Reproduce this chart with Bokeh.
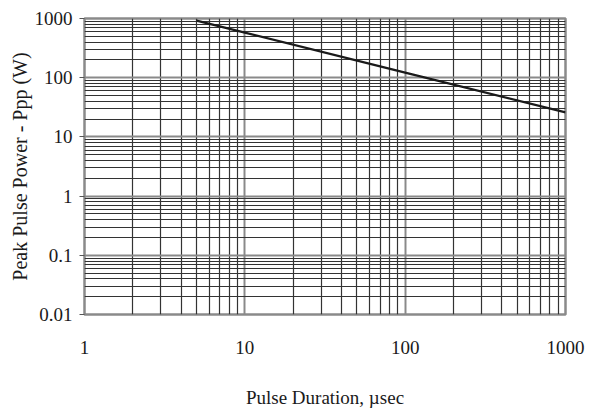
from bokeh.plotting import figure
from bokeh.models import FixedTicker
from bokeh.embed import file_html
from bokeh.resources import INLINE

# Data
pulse_duration_us = [5, 10, 100, 1000]
peak_power_w = [920, 577, 122, 26]

x_major = [1, 10, 100, 1000]
y_major = [0.01, 0.1, 1, 10, 100, 1000]
x_labels = ["1", "10", "100", "1000"]
y_labels = ["0.01", "0.1", "1", "10", "100", "1000"]

def minors(lo_exp, hi_exp):
    out = []
    for e in range(lo_exp, hi_exp):
        for m in range(2, 10):
            out.append(m * 10.0 ** e)
    return out

W, H = 590, 410
p = figure(width=W, height=H, x_axis_type="log", y_axis_type="log",
           x_range=(1, 1000), y_range=(0.01, 1000),
           output_backend="svg", toolbar_location=None,
           min_border_left=84, min_border_right=W - 565, min_border_top=18,
           min_border_bottom=H - 317)

p.line(pulse_duration_us, peak_power_w, line_color="#1a1a1a", line_width=2.2)

FONT = "Liberation Serif"

p.xaxis.ticker = FixedTicker(ticks=x_major, minor_ticks=minors(0, 3))
p.yaxis.ticker = FixedTicker(ticks=y_major, minor_ticks=minors(-2, 3))
p.xaxis.major_label_overrides = {v: s for v, s in zip(x_major, x_labels)}
p.yaxis.major_label_overrides = {v: s for v, s in zip(y_major, y_labels)}

for ax in (p.xaxis[0], p.yaxis[0]):
    ax.axis_line_color = None
    ax.minor_tick_line_color = None
    ax.major_label_text_font = FONT
    ax.axis_label_text_font = FONT
    ax.axis_label_text_font_style = "normal"
    ax.axis_label_text_color = "#1a1a1a"
    ax.major_label_text_color = "#1a1a1a"

p.xaxis.major_tick_line_color = None
p.xaxis.major_label_text_font_size = "19px"
p.xaxis.major_label_standoff = 20
p.xaxis.axis_label = "Pulse Duration, µsec"
p.xaxis.axis_label_text_font_size = "19px"
p.xaxis.axis_label_standoff = 30

p.yaxis.major_tick_in = 0
p.yaxis.major_tick_out = 5
p.yaxis.major_tick_line_color = "#555555"
p.yaxis.major_label_text_font_size = "19px"
p.yaxis.major_label_standoff = 7
p.yaxis.axis_label = "Peak Pulse Power - Ppp (W)"
p.yaxis.axis_label_text_font_size = "20px"
p.yaxis.axis_label_standoff = 1

for g in (p.xgrid[0], p.ygrid[0]):
    g.grid_line_color = "#8a8a8a"
    g.grid_line_width = 2
    g.minor_grid_line_color = "#333333"
    g.minor_grid_line_width = 1.2

p.outline_line_color = "#8a8a8a"
p.outline_line_width = 2.5
p.background_fill_color = "white"
p.border_fill_color = "white"

open("out.html", "w").write(file_html(p, INLINE))
